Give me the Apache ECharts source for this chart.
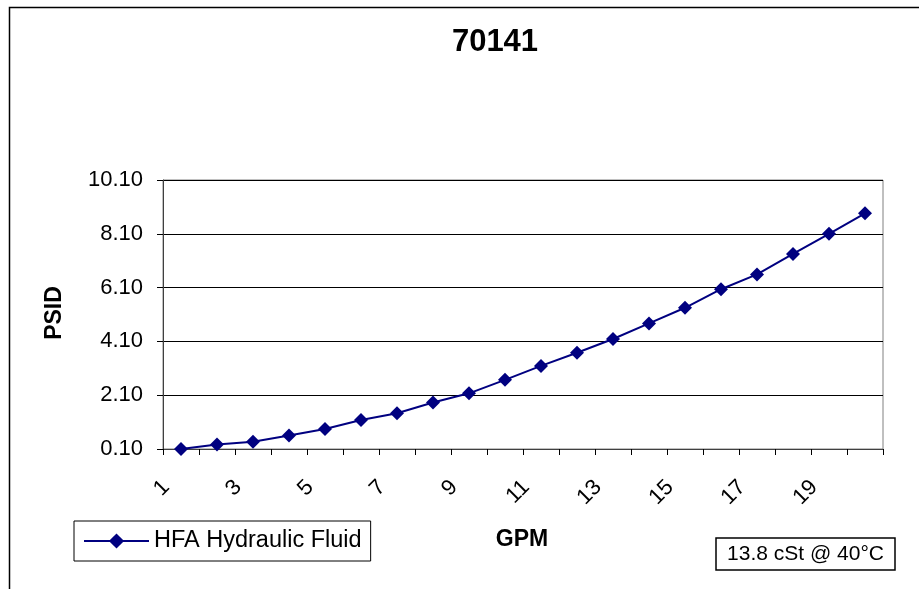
<!DOCTYPE html>
<html>
<head>
<meta charset="utf-8">
<script src="https://cdn.jsdelivr.net/npm/echarts@6/dist/echarts.min.js"></script>
<style>
html,body{margin:0;padding:0;background:#fff;}
#chart{width:919px;height:589px;}
</style>
</head>
<body>
<div id="chart"></div>
<script>
const categories = ['1','2','3','4','5','6','7','8','9','10','11','12','13','14','15','16','17','18','19','20'];
const psid = [0.10,0.27,0.37,0.60,0.84,1.18,1.43,1.83,2.17,2.67,3.19,3.68,4.19,4.77,5.35,6.04,6.59,7.35,8.10,8.86];
const seriesName = 'HFA Hydraulic Fluid';
const titleText = '70141';
const xName = 'GPM';
const yName = 'PSID';
const noteText = '13.8 cSt @ 40°C';

const FONT = 'Arial, "Liberation Sans", sans-serif';
const chart = echarts.init(document.getElementById('chart'), null, {renderer:'canvas'});
chart.setOption({
  animation:false,
  backgroundColor:'#fff',
  title:{text:titleText,left:490,top:22,textAlign:'center',
    textStyle:{fontFamily:FONT,fontWeight:'bold',fontSize:31,color:'#000'}},
  grid:{left:163,right:36,top:180,bottom:140,show:true,borderColor:'#808080',borderWidth:1,backgroundColor:'#fff'},
  legend:{
    data:[seriesName],left:74,top:521,
    padding:[8,9,8,9],itemGap:0,
    borderColor:'#000',borderWidth:1,
    itemWidth:65,itemHeight:19,
    textStyle:{fontFamily:FONT,fontSize:23.5,color:'#000'}
  },
  xAxis:{
    type:'category',data:categories,boundaryGap:true,
    axisLine:{lineStyle:{color:'#404040',width:1}},
    axisTick:{show:true,interval:0,length:6,lineStyle:{color:'#000'}},
    axisLabel:{interval:1,rotate:45,margin:20,padding:[0,21,0,0],fontFamily:FONT,fontSize:22,color:'#000'},
    splitLine:{show:false}
  },
  yAxis:{
    type:'value',min:0.1,max:10.1,interval:2,
    axisLine:{show:true,lineStyle:{color:'#404040',width:1}},
    axisTick:{show:true,length:6,lineStyle:{color:'#000'}},
    axisLabel:{margin:20,fontFamily:FONT,fontSize:22,color:'#000',
      formatter:v=>v.toFixed(2)},
    splitLine:{show:true,lineStyle:{color:'#000',width:1}}
  },
  series:[{
    name:seriesName,type:'line',data:psid,
    symbol:'diamond',symbolSize:14,
    lineStyle:{color:'#000080',width:2},
    itemStyle:{color:'#000080'}
  }],
  graphic:[
    {type:'rect',left:7,top:5,shape:{width:1000,height:700},
      style:{fill:'none',stroke:'#000',lineWidth:1.5},silent:true,z:-10},
    {type:'text',x:55,y:313,rotation:Math.PI/2,
      style:{text:yName,fontFamily:FONT,fontWeight:'bold',fontSize:23,fill:'#000',align:'center',verticalAlign:'middle'}},
    {type:'text',x:522,y:540,
      style:{text:xName,fontFamily:FONT,fontWeight:'bold',fontSize:23,fill:'#000',align:'center',verticalAlign:'middle'}},
    {type:'rect',shape:{x:716,y:538,width:179,height:32},
      style:{fill:'#fff',stroke:'#000',lineWidth:1.5}},
    {type:'text',x:805.5,y:554,
      style:{text:noteText,fontFamily:FONT,fontSize:21,fill:'#000',align:'center',verticalAlign:'middle'}}
  ]
});
</script>
</body>
</html>
